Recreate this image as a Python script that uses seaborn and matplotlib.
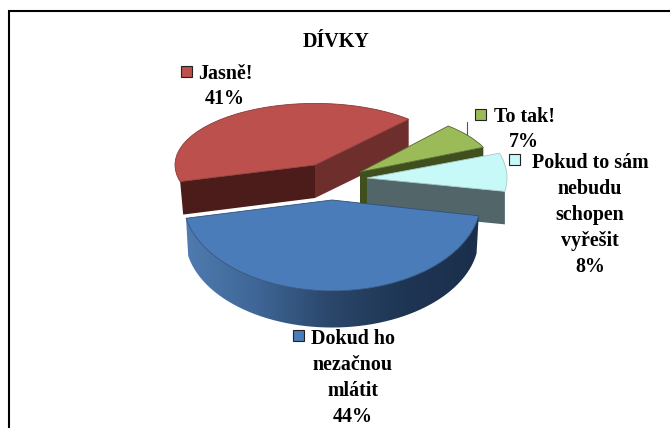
import numpy as np
import matplotlib
matplotlib.use("Agg")
import matplotlib.pyplot as plt
from matplotlib.colors import LinearSegmentedColormap
from matplotlib.patches import PathPatch, Rectangle
from matplotlib.path import Path
from matplotlib.transforms import Affine2D
import seaborn as sns

sns.set_theme(style="white")
plt.rcParams["font.family"] = ["Liberation Serif", "DejaVu Serif"]

title = "DÍVKY"
categories = ["Jasně!", "To tak!", "Pokud to sám\nnebudu\nschopen\nvyřešit", "Dokud ho\nnezačnou\nmlátit"]
values = [41, 7, 8, 44]
top_colors = ["#BC504D", "#9BBB59", "#C6F9F8", "#4A7CB9"]
edge_colors = ["#8a3a38", "#55682f", "#a9c9c8", "#2f507a"]
low_colors = ["#4C1C1B", "#3F4F1D", "#52666A", "#1B2F4C"]
side_colors = ["#6E2E2C", "#3F4F1D", "#52666A", "#1B2F4C"]

# per-slice view geometry: tip x, tip y, radius, squash, start angle, depth
geometry = [
    (315, 165, 140, 0.44, 48.0, 33),
    (360, 172, 135, 0.45, 24.0, 32),
    (367, 178, 140, 0.55, -10.0, 33),
    (332, 200, 149, 0.61, -168.4, 38),
]
label_pos = [(225, 74), (524, 117), (590, 163), (353, 339)]
label_lines = [(0, 25), (0, 25), (0, 26), (0, 26)]
swatch_pos = [(186, 71), (480, 114), (514, 159), (298, 335)]

fig = plt.figure(figsize=(6.7, 4.28), dpi=100, facecolor="white")
ax = fig.add_axes([0, 0, 1, 1])


def arc_points(cx, cy, r, s, t1, t2, dy=0, n=120):
    t = np.radians(np.linspace(t1, t2, n))
    return np.c_[cx + r * np.cos(t), cy - r * s * np.sin(t) + dy]


rim_cmap = LinearSegmentedColormap.from_list(
    "rim", ["#4F7BB0", "#3E6595", "#2A4669", "#1E3553", "#1B2F4C"])

for i, (v, geo) in enumerate(zip(values, geometry)):
    cx, cy, r, s, start, depth = geo
    wedges, _ = ax.pie([v, 100 - v], colors=[top_colors[i], "none"], startangle=start,
                       radius=r, center=(0, 0), normalize=True,
                       wedgeprops=dict(edgecolor=edge_colors[i], linewidth=0.6))
    w = wedges[0]
    wedges[1].remove()
    w.set_transform(Affine2D().scale(1, -s).translate(cx, cy) + ax.transData)
    w.set_zorder(10 * i + 5)
    w.set_clip_on(False)
    t1, t2 = w.theta1, w.theta2
    end1 = arc_points(cx, cy, r, s, t1, t1, n=1)[0]
    end2 = arc_points(cx, cy, r, s, t2, t2, n=1)[0]
    z = 10 * i + 2
    if i == 0:
        ax.fill([cx, end2[0], end2[0] + 3, cx], [cy, end2[1], end2[1] + depth, cy + depth],
                color=low_colors[i], zorder=z, lw=0)
        ax.fill([cx, end1[0], end1[0], cx], [cy, end1[1], end1[1] + depth, cy + depth],
                color=side_colors[i], zorder=z, lw=0)
    elif i in (1, 2):
        ax.fill([cx, end1[0], end1[0], cx], [cy, end1[1], end1[1] + depth, cy + depth],
                color=low_colors[i], zorder=z, lw=0)
        if i == 1:
            ax.fill([cx, cx + 7, cx + 7, cx], [cy, cy, cy + depth, cy + depth],
                    color=low_colors[i], zorder=z, lw=0)
    else:
        top = arc_points(cx, cy, r, s, t1, t2)
        bot = arc_points(cx, cy, r * 0.985, s, t2, t1, dy=depth)
        verts = np.vstack([top, bot, top[:1]])
        clip = PathPatch(Path(verts), transform=ax.transData, fc="none", ec="none")
        ax.add_patch(clip)
        grad = np.linspace(0, 1, 256)[None, :]
        im = ax.imshow(grad, cmap=rim_cmap, aspect="auto", zorder=z,
                       extent=(verts[:, 0].min(), verts[:, 0].max(),
                               verts[:, 1].max(), verts[:, 1].min()))
        im.set_clip_path(clip)

ax.plot([467, 467], [122, 136], color="#555555", lw=0.8, zorder=3)

for i, (name, v) in enumerate(zip(categories, values)):
    x, y = label_pos[i]
    step = label_lines[i][1]
    lines = name.split("\n") + [f"{v}%"]
    for k, line in enumerate(lines):
        ax.text(x, y + k * step, line, ha="center", va="center", fontsize=14.4,
                fontweight="bold", color="black", zorder=60)
    sx, sy = swatch_pos[i]
    ax.add_patch(Rectangle((sx - 5.5, sy - 5.5), 11, 11, fc=top_colors[i], ec="#222222",
                           lw=0.8, zorder=60))

ax.text(336, 42, title, ha="center", va="center", fontsize=14.4, fontweight="bold",
        color="black", zorder=60)

# outer chart frame (only left and top fall inside the picture)
ax.plot([9, 9, 670], [428, 11, 11], color="black", lw=1.5, solid_joinstyle="miter", zorder=70)

ax.set_aspect("auto")
ax.set_xlim(0, 670)
ax.set_ylim(428, 0)
ax.set_axis_off()
fig.savefig("out.png", dpi=100, facecolor="white")
